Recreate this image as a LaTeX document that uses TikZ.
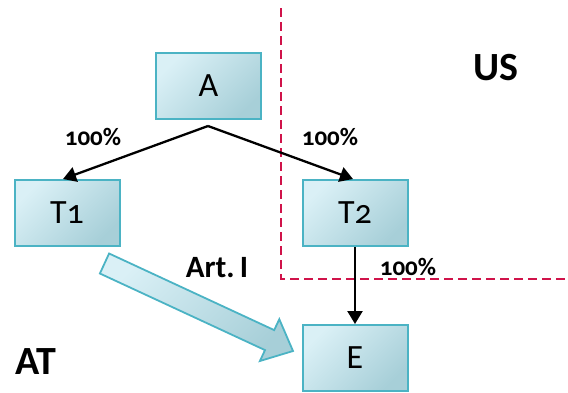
\documentclass[tikz,border=0pt]{standalone}
\usepackage{fontspec}
\setmainfont{Carlito}[Numbers=OldStyle]
\usetikzlibrary{arrows.meta}
\definecolor{boxlight}{HTML}{DAF0F6}
\definecolor{boxdark}{HTML}{A7CFD8}
\definecolor{boxline}{HTML}{4BB3C4}
\definecolor{borderred}{HTML}{D0134A}
\begin{document}
\begin{tikzpicture}[x=1pt,y=-1pt,
  ent/.style={draw=boxline, line width=2pt, left color=boxlight, right color=boxdark, shading angle=45,
    minimum width=105pt, minimum height=66pt, inner sep=0pt, font=\fontsize{34}{36}\selectfont},
  own/.style={-{Triangle[length=13pt,width=15pt]}, line width=2.3pt, black},
  pct/.style={font=\bfseries\fontsize{25}{26}\selectfont, inner sep=0pt},
  big/.style={font=\bfseries\fontsize{40}{42}\selectfont, inner sep=0pt},
  lbl/.style={font=\bfseries\fontsize{31}{32}\selectfont, inner sep=0pt},
  borderline/.style={draw=borderred, line width=2pt, dash pattern=on 9pt off 5pt},
  blockarrow/.style={draw=boxline, line width=1.8pt, line join=miter, left color=boxlight, right color=boxdark, shading angle=45}
]
\useasboundingbox (0,0) rectangle (568,392);
% border
\coordinate (b1) at (281,8);
\coordinate (b2) at (281,279);
\coordinate (b3) at (568,279);
\draw[borderline] (b1) -- (b2) -- (b3);
% entities
\node[ent] (A) at (208.5,86) {A};
\node[ent] (T1) at (67,213) {T1};
\node[ent] (T2) at (355,213) {T2};
\node[ent] (E) at (355,358) {E};
% ownership arrows
\coordinate (Afork) at (208,126);
\draw[own] (Afork) -- ([xshift=-4pt]T1.north);
\draw[own] (Afork) -- ([xshift=-2pt]T2.north);
\draw[own] (T2.south) -- (E.north);
% block arrow (Art. I)
\coordinate (p1) at (109.1,253.5);
\coordinate (p2) at (274.2,330.1);
\coordinate (p3) at (279.3,319.2);
\coordinate (tip) at (293,351);
\coordinate (p4) at (259.9,361.0);
\coordinate (p5) at (265.0,350.1);
\coordinate (p6) at (99.9,273.5);
\path[blockarrow] (p1) -- (p2) -- (p3) -- (tip) -- (p4) -- (p5) -- (p6) -- cycle;
% labels
\node[pct] (l1) at (93,137) {100\%};
\node[pct] (l2) at (330,137) {100\%};
\node[pct] (l3) at (408,267) {100\%};
\node[lbl] (art) at (217,268) {Art.\,I};
\node[big] (us) at (496,68) {US};
\node[big] (at) at (36,362) {AT};
\end{tikzpicture}
\end{document}
